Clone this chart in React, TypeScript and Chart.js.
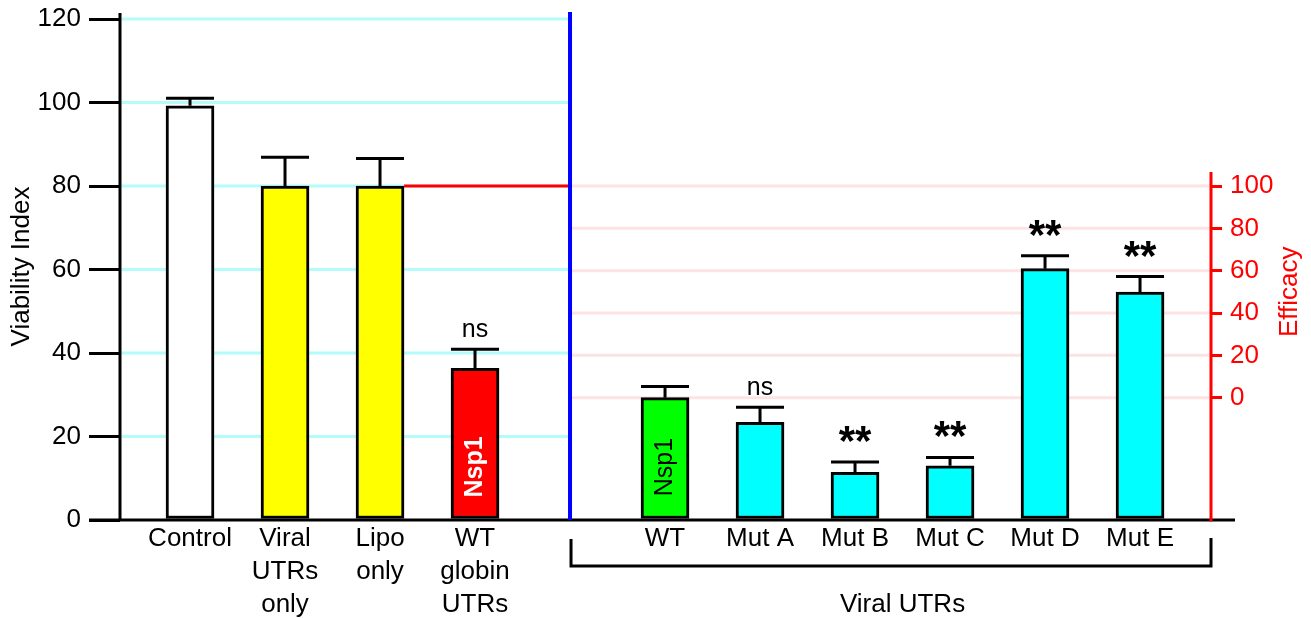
import React, { useEffect, useRef } from "react";
import { Chart, registerables } from "chart.js";

Chart.register(...registerables);

// ---- data ----
const categories: string[] = [
  "Control",
  "Viral\nUTRs\nonly",
  "Lipo\nonly",
  "WT\nglobin\nUTRs",
  "",
  "WT",
  "Mut A",
  "Mut B",
  "Mut C",
  "Mut D",
  "Mut E",
];
const viability: (number | null)[] = [99.2, 80, 80, 36.3, null, 29.3, 23.4, 11.4, 13.0, 60.2, 54.6];
const errors: (number | null)[] = [1.8, 6.9, 6.6, 4.6, null, 2.7, 3.6, 2.5, 2.0, 3.1, 3.7];
const barColors: (string | null)[] = [
  "#ffffff", "#ffff00", "#ffff00", "#ff0000", null,
  "#00ff00", "#00ffff", "#00ffff", "#00ffff", "#00ffff", "#00ffff",
];
const significance: string[] = ["", "", "", "ns", "", "", "ns", "**", "**", "**", "**"];
const barLabels: string[] = ["", "", "", "Nsp1", "", "Nsp1", "", "", "", "", ""];
const barLabelColors: string[] = ["", "", "", "#ffffff", "", "#000000", "", "", "", "", ""];
const barLabelBold: boolean[] = [false, false, false, true, false, false, false, false, false, false, false];
const viabilityTicks: number[] = [0, 20, 40, 60, 80, 100, 120];
const efficacyTicks: number[] = [0, 20, 40, 60, 80, 100];
const groupLabel = "Viral UTRs";
const dividerIndex = 4;
const efficacyZeroIndex = 5; // WT with viral UTRs = 0 % efficacy
const efficacyFullIndex = 2; // Lipo only = 100 % efficacy
const groupStart = 5;
const groupEnd = 10;

const FONT = "'Liberation Sans', Arial, Helvetica, sans-serif";

const v0 = viability[efficacyZeroIndex] as number;
const v100 = viability[efficacyFullIndex] as number;
const toEff = (v: number) => ((v - v0) / (v100 - v0)) * 100;

const zeroPad = (s: any) => {
  s.paddingTop = 0;
  s.paddingBottom = 0;
  s.paddingLeft = 0;
  s.paddingRight = 0;
};

const overlay = {
  id: "overlay",
  beforeDatasetsDraw(chart: any) {
    const { ctx, chartArea, scales } = chart;
    const x = scales.x, y = scales.y, y2 = scales.y2;
    const divX = x.getPixelForValue(dividerIndex);
    ctx.save();
    ctx.lineWidth = 3;
    ctx.strokeStyle = "#b4fbfb";
    viabilityTicks.forEach((t) => {
      if (t === 0) return;
      const py = y.getPixelForValue(t);
      ctx.beginPath();
      ctx.moveTo(chartArea.left + 1.5, py);
      ctx.lineTo(divX, py);
      ctx.stroke();
    });
    ctx.strokeStyle = "#fde3e3";
    efficacyTicks.forEach((t) => {
      const py = y2.getPixelForValue(t);
      ctx.beginPath();
      ctx.moveTo(divX, py);
      ctx.lineTo(chartArea.right, py);
      ctx.stroke();
    });
    ctx.restore();
  },
  afterDatasetsDraw(chart: any) {
    const { ctx, chartArea, scales } = chart;
    const x = scales.x, y = scales.y, y2 = scales.y2;
    const divX = x.getPixelForValue(dividerIndex);
    const half = 24;
    ctx.save();
    ctx.lineCap = "butt";

    // red threshold line from Lipo bar to divider
    const ry = y.getPixelForValue(v100);
    ctx.strokeStyle = "#ff0000";
    ctx.lineWidth = 3;
    ctx.beginPath();
    ctx.moveTo(x.getPixelForValue(efficacyFullIndex) + half, ry);
    ctx.lineTo(divX - 2, ry);
    ctx.stroke();

    // error bars
    ctx.strokeStyle = "#000";
    ctx.lineWidth = 3;
    categories.forEach((_, i) => {
      const v = viability[i];
      const e = errors[i];
      if (v == null || e == null) return;
      const px = x.getPixelForValue(i);
      const pt = y.getPixelForValue(v);
      const pc = y.getPixelForValue(v + e);
      ctx.beginPath();
      ctx.moveTo(px, pt);
      ctx.lineTo(px, pc);
      ctx.moveTo(px - half, pc);
      ctx.lineTo(px + half, pc);
      ctx.stroke();
      const s = significance[i];
      if (s) {
        ctx.fillStyle = "#000";
        ctx.textAlign = "center";
        ctx.textBaseline = "alphabetic";
        if (s === "ns") {
          ctx.font = `25px ${FONT}`;
          ctx.fillText(s, px, pc - 12);
        } else {
          ctx.font = `bold 42px ${FONT}`;
          ctx.fillText(s, px, pc - 7);
        }
      }
      const bl = barLabels[i];
      if (bl) {
        ctx.save();
        ctx.translate(px, chartArea.bottom - 53);
        ctx.rotate(-Math.PI / 2);
        ctx.fillStyle = barLabelColors[i];
        ctx.font = `${barLabelBold[i] ? "bold " : ""}25px ${FONT}`;
        ctx.textAlign = "center";
        ctx.textBaseline = "middle";
        ctx.fillText(bl, 0, 0);
        ctx.restore();
      }
    });

    // left axis line
    ctx.strokeStyle = "#000";
    ctx.lineWidth = 3;
    ctx.beginPath();
    ctx.moveTo(chartArea.left, chartArea.top - 6);
    ctx.lineTo(chartArea.left, chartArea.bottom);
    ctx.stroke();
    // bottom axis line
    ctx.beginPath();
    ctx.moveTo(chartArea.left - 31, chartArea.bottom);
    ctx.lineTo(chartArea.right + 24, chartArea.bottom);
    ctx.stroke();

    // right efficacy axis line
    ctx.strokeStyle = "#ff0000";
    ctx.beginPath();
    ctx.moveTo(chartArea.right, y2.getPixelForValue(100) - 14);
    ctx.lineTo(chartArea.right, chartArea.bottom + 1.5);
    ctx.stroke();

    // blue divider
    ctx.strokeStyle = "#0000ff";
    ctx.lineWidth = 4;
    ctx.beginPath();
    ctx.moveTo(divX, chartArea.top - 7);
    ctx.lineTo(divX, chartArea.bottom);
    ctx.stroke();

    // bracket
    ctx.strokeStyle = "#000";
    ctx.lineWidth = 3;
    ctx.beginPath();
    ctx.moveTo(divX + 1, chartArea.bottom + 19);
    ctx.lineTo(divX + 1, chartArea.bottom + 46);
    ctx.lineTo(chartArea.right, chartArea.bottom + 46);
    ctx.lineTo(chartArea.right, chartArea.bottom + 18);
    ctx.stroke();
    ctx.fillStyle = "#000";
    ctx.font = `26px ${FONT}`;
    ctx.textAlign = "center";
    ctx.textBaseline = "middle";
    const gx = (x.getPixelForValue(groupStart) + x.getPixelForValue(groupEnd)) / 2;
    ctx.fillText(groupLabel, gx, chartArea.bottom + 85);

    // axis titles
    ctx.save();
    ctx.translate(22, (chartArea.top + chartArea.bottom) / 2 - 3);
    ctx.rotate(-Math.PI / 2);
    ctx.font = `26px ${FONT}`;
    ctx.fillStyle = "#000";
    ctx.fillText("Viability Index", 0, 0);
    ctx.restore();

    ctx.save();
    ctx.translate(1290, (y2.getPixelForValue(0) + y2.getPixelForValue(100)) / 2);
    ctx.rotate(-Math.PI / 2);
    ctx.font = `26px ${FONT}`;
    ctx.fillStyle = "#ff0000";
    ctx.fillText("Efficacy", 0, 0);
    ctx.restore();

    ctx.restore();
  },
};

export default function App() {
  const ref = useRef<HTMLCanvasElement | null>(null);
  useEffect(() => {
    if (!ref.current) return;
    const idx = categories.map((_, i) => i).filter((i) => viability[i] != null);
    const chart = new Chart(ref.current, {
      type: "bar",
      data: {
        datasets: [
          {
            data: idx.map((i) => ({ x: i, y: viability[i] as number })),
            backgroundColor: idx.map((i) => barColors[i] as string),
            borderColor: "#000",
            borderWidth: 3,
            borderSkipped: false,
            barThickness: 48,
          } as any,
        ],
      },
      options: {
        animation: false,
        responsive: false,
        layout: { padding: { top: 19, left: 0, right: 0, bottom: 0 } },
        plugins: { legend: { display: false }, tooltip: { enabled: false } },
        scales: {
          x: {
            type: "linear",
            offset: false,
            min: -0.737,
            max: 10.747,
            afterBuildTicks: (s: any) => {
              s.ticks = categories.map((_, i) => ({ value: i }));
            },
            afterFit: (s: any) => {
              s.height = 98;
              zeroPad(s);
            },
            grid: { display: false, drawTicks: false, tickLength: 0 },
            border: { display: false },
            ticks: {
              autoSkip: false,
              maxRotation: 0,
              minRotation: 0,
              padding: 2,
              color: "#000",
              font: { family: FONT, size: 26, lineHeight: 1.27 },
              callback: (v: any) => {
                const c = categories[Math.round(v)];
                return c ? c.split("\n") : "";
              },
            },
          },
          y: {
            position: "left",
            min: 0,
            max: 120,
            afterBuildTicks: (s: any) => {
              s.ticks = viabilityTicks.map((v) => ({ value: v }));
            },
            afterFit: (s: any) => {
              s.width = 120;
              zeroPad(s);
            },
            grid: { drawOnChartArea: false, color: "#000", lineWidth: 3, tickLength: 31 },
            border: { display: false },
            ticks: { padding: 8, color: "#000", font: { family: FONT, size: 26 } },
          },
          y2: {
            position: "right",
            min: toEff(0),
            max: toEff(120),
            afterBuildTicks: (s: any) => {
              s.ticks = efficacyTicks.map((v) => ({ value: v }));
            },
            afterFit: (s: any) => {
              s.width = 100;
              zeroPad(s);
            },
            grid: { drawOnChartArea: false, color: "#ff0000", lineWidth: 3, tickLength: 11 },
            border: { display: false },
            ticks: { padding: 8, color: "#ff0000", font: { family: FONT, size: 26 } },
          },
        },
      } as any,
      plugins: [overlay],
    });
    return () => chart.destroy();
  }, []);
  return (
    <div style={{ position: "absolute", left: 0, top: 0, width: 1311, height: 618, background: "#fff" }}>
      <canvas ref={ref} width={1311} height={618} style={{ display: "block" }} />
    </div>
  );
}
